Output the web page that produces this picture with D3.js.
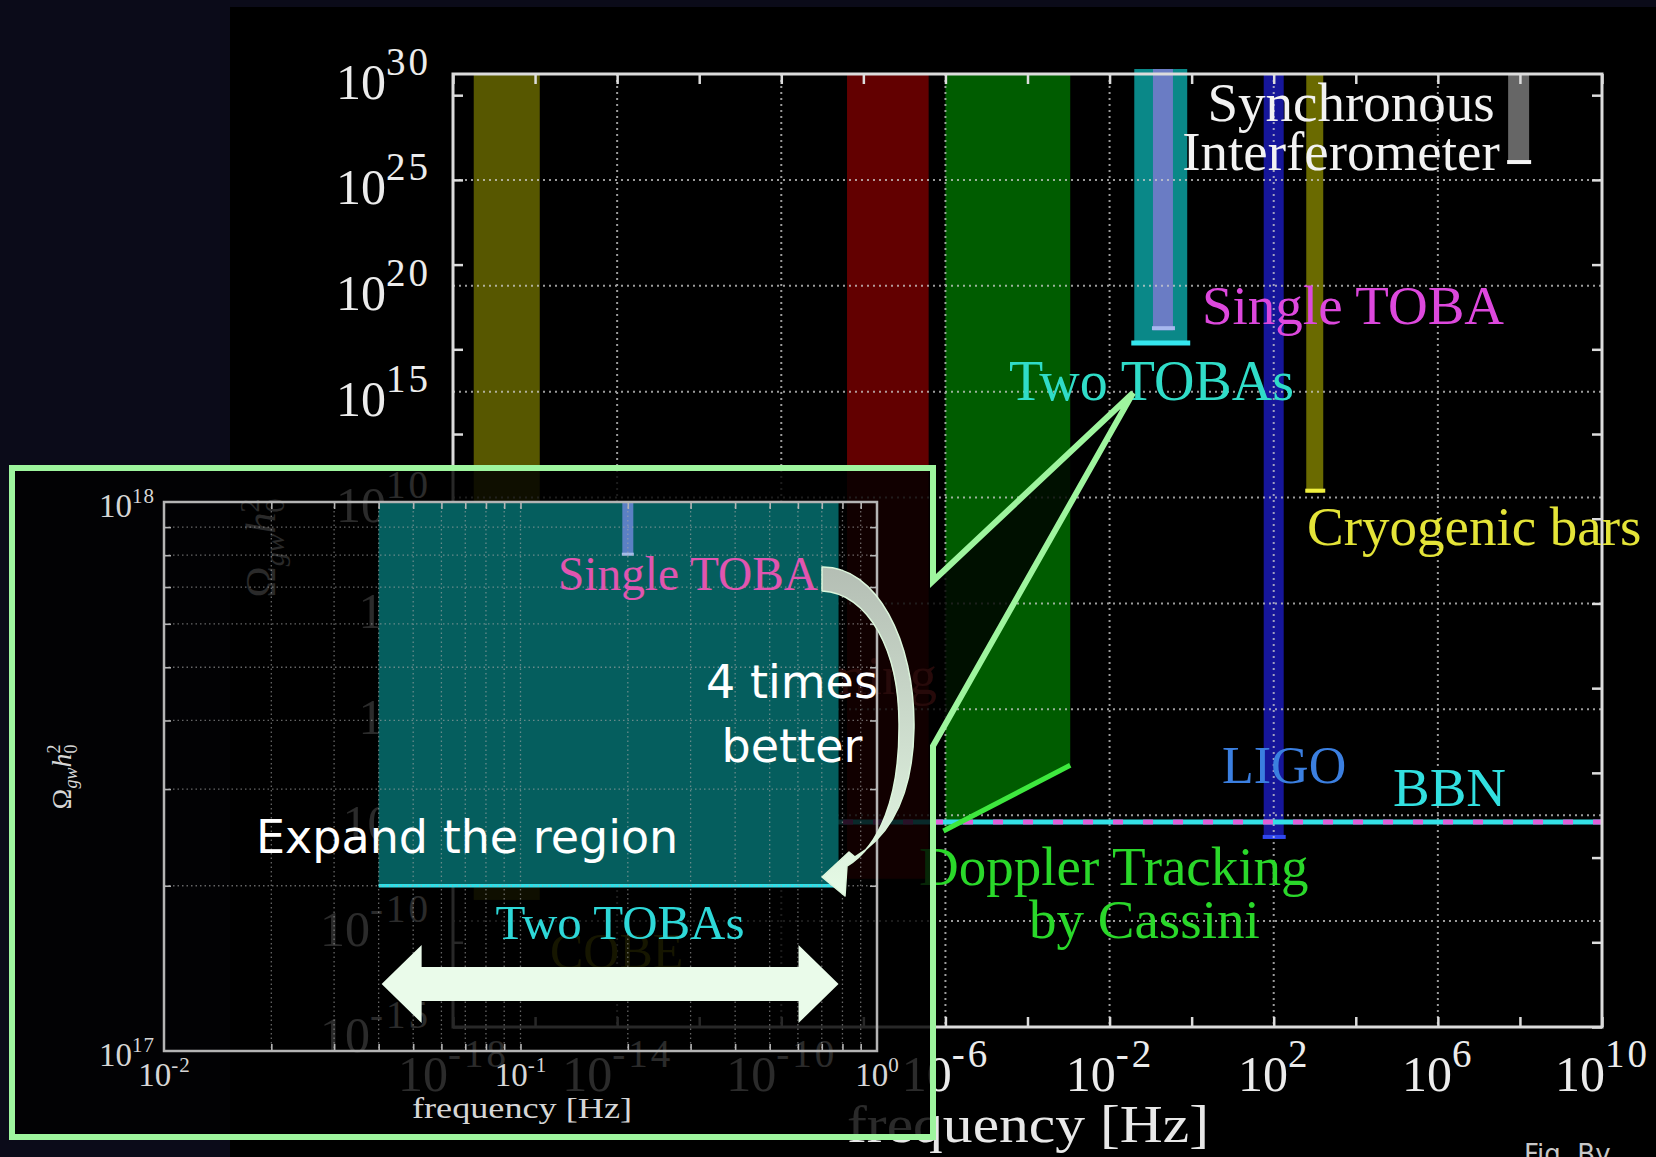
<!DOCTYPE html>
<html>
<head>
<meta charset="utf-8">
<script src="https://cdn.jsdelivr.net/npm/d3@7"></script>
<style>
  html, body { margin: 0; padding: 0; background: #0b0b19; overflow: hidden; }
  svg { display: block; }
</style>
</head>
<body>
<svg id="chart" width="1656" height="1157"></svg>
<script>
// ---------------- data ----------------
// main panel: tick label exponents (10^n)
const xLabelExps = [-18, -14, -10, -6, -2, 2, 6, 10];
const yLabelExps = [30, 25, 20, 15, 10, 5, 0, -5, -10, -15];
const xMinorExps = d3.range(-18, 11, 2);
const yMinorExps = d3.range(-15, 31, 4);

// wide exclusion bands (frequency span, lower edge of Omega_gw h0^2)
const bandNames = ["COBE", "Pulsar timing"];
const bandFreqLow = [3.2e-18, 4e-9];
const bandFreqHigh = [1.3e-16, 3.9e-7];
const bandOmegaMin = [1e-9, 1e-8];

// Doppler tracking by Cassini: sloped lower edge
const dopplerFreq = [1e-6, 1.1e-3];
const dopplerOmega = [2e-6, 2.3e-3];

// Big Bang nucleosynthesis bound
const bbnOmega = 4.8e-6;

// two co-located TOBAs
const twoTobasFreq = [0.04, 0.78];
const twoTobasOmega = 2e17;

// narrow-band detectors (centre frequency, lower limit)
const detectorNames = ["Single TOBA", "LIGO", "Cryogenic bars", "Synchronous Interferometer"];
const detectorFreq = [0.2, 100, 1000, 9.3e7];
const detectorOmega = [8e17, 7.6e-7, 1.7e10, 5.6e25];

// zoomed panel
const insetXLabelExps = [-2, -1, 0];
const insetYLabelExps = [18, 17];
const insetMultipliers = [2, 3, 4, 5, 6, 7, 8, 9];

// ---------------- styles ----------------
const SERIF = "'Liberation Serif', 'Times New Roman', serif";
const SANS = "'DejaVu Sans', Verdana, sans-serif";
const bandColors = ["#575700", "#620000"];
const detectorStyle = [
  { color: "#6a7cc4", cap: "#a7b8ee", width: 20 },
  { color: "#16169a", cap: "#3048f0", width: 20 },
  { color: "#6a6a00", cap: "#f0f040", width: 17 },
  { color: "#666666", cap: "#f4f4f4", width: 21 }
];

const W = 1656, H = 1157;
const svg = d3.select("#chart");
const defs = svg.append("defs");
const grad = defs.append("linearGradient").attr("id", "arcFill")
  .attr("x1", 0).attr("y1", 0).attr("x2", 0).attr("y2", 1);
grad.append("stop").attr("offset", "0%").attr("stop-color", "#b4beb4");
grad.append("stop").attr("offset", "100%").attr("stop-color", "#e6fbe6");

// backdrop
svg.append("rect").attr("width", W).attr("height", H).attr("fill", "#0b0b19");
svg.append("rect").attr("x", 230).attr("y", 7).attr("width", W - 230).attr("height", H - 7).attr("fill", "#000");

// ---------------- main panel ----------------
const M = { left: 453, right: 1602, top: 74, bottom: 1027 };
const x = d3.scaleLog().domain([1e-18, 1e10]).range([M.left, M.right]);
const y = d3.scaleLog().domain([1e-15, 1e30]).range([M.bottom, M.top]);
const yTop = y.domain()[1];
const p10 = e => Math.pow(10, e);
const expText = e => (e < 0 ? "-" + Math.abs(e) : String(e));

const main = svg.append("g");

// wide bands
main.selectAll("rect.band").data(bandNames).join("rect").attr("class", "band")
  .attr("x", (d, i) => x(bandFreqLow[i]))
  .attr("width", (d, i) => x(bandFreqHigh[i]) - x(bandFreqLow[i]))
  .attr("y", y(yTop))
  .attr("height", (d, i) => y(bandOmegaMin[i]) - y(yTop))
  .attr("fill", (d, i) => bandColors[i]);

// Doppler tracking region
const dopplerPoly = [
  [dopplerFreq[0], yTop], [dopplerFreq[1], yTop],
  [dopplerFreq[1], dopplerOmega[1]], [dopplerFreq[0], dopplerOmega[0]]
];
main.append("path")
  .attr("d", d3.line().x(d => x(d[0])).y(d => y(d[1]))(dopplerPoly) + "Z")
  .attr("fill", "#005c00");

// Two TOBAs region
main.append("rect")
  .attr("x", x(twoTobasFreq[0])).attr("width", x(twoTobasFreq[1]) - x(twoTobasFreq[0]))
  .attr("y", y(yTop) - 5).attr("height", y(twoTobasOmega) - y(yTop) + 5)
  .attr("fill", "#0a8888");

// narrow detectors
detectorNames.forEach((name, i) => {
  const s = detectorStyle[i];
  const cx = x(detectorFreq[i]);
  main.append("line")
    .attr("x1", cx).attr("x2", cx)
    .attr("y1", i === 0 ? y(yTop) - 5 : y(yTop)).attr("y2", y(detectorOmega[i]))
    .attr("stroke", s.color).attr("stroke-width", s.width);
  main.append("line")
    .attr("x1", cx - s.width / 2 - 1).attr("x2", cx + s.width / 2 + 2)
    .attr("y1", y(detectorOmega[i]) - 2).attr("y2", y(detectorOmega[i]) - 2)
    .attr("stroke", s.cap).attr("stroke-width", 4);
});

// grid
const grid = main.append("g").attr("stroke", "#cfcfcf").attr("stroke-width", 2)
  .attr("stroke-dasharray", "2,4").attr("opacity", 0.75);
grid.selectAll("line.gx").data(xLabelExps.slice(1, -1)).join("line")
  .attr("x1", d => x(p10(d))).attr("x2", d => x(p10(d)))
  .attr("y1", M.top).attr("y2", M.bottom);
grid.selectAll("line.gy").data(yLabelExps.slice(1, -1)).join("line")
  .attr("y1", d => y(p10(d))).attr("y2", d => y(p10(d)))
  .attr("x1", M.left).attr("x2", M.right);

// BBN bound
main.append("line").attr("x1", M.left).attr("x2", M.right)
  .attr("y1", y(bbnOmega)).attr("y2", y(bbnOmega))
  .attr("stroke", "#35e0e6").attr("stroke-width", 5);
main.append("line").attr("x1", M.left).attr("x2", M.right)
  .attr("y1", y(bbnOmega)).attr("y2", y(bbnOmega))
  .attr("stroke", "#e060d8").attr("stroke-width", 5).attr("stroke-dasharray", "10,20");

// Doppler lower edge
main.append("line")
  .attr("x1", x(dopplerFreq[0]) - 2).attr("y1", y(dopplerOmega[0]) + 1)
  .attr("x2", x(dopplerFreq[1])).attr("y2", y(dopplerOmega[1]))
  .attr("stroke", "#3ee83e").attr("stroke-width", 5);

// Two TOBAs lower edge
main.append("line")
  .attr("x1", x(twoTobasFreq[0]) - 3).attr("x2", x(twoTobasFreq[1]) + 3)
  .attr("y1", y(twoTobasOmega)).attr("y2", y(twoTobasOmega))
  .attr("stroke", "#35e6ee").attr("stroke-width", 5);

// frame
main.append("rect").attr("x", M.left).attr("y", M.top)
  .attr("width", M.right - M.left).attr("height", M.bottom - M.top)
  .attr("fill", "none").attr("stroke", "#dcdcdc").attr("stroke-width", 3);

// minor ticks (inward)
function styleTicks(g) {
  g.select(".domain").remove();
  g.selectAll("line").attr("stroke", "#dcdcdc").attr("stroke-width", 2.5);
}
const xm = xMinorExps.map(p10), ym = yMinorExps.map(p10);
main.append("g").attr("transform", `translate(0,${M.bottom})`)
  .call(d3.axisBottom(x).tickValues(xm).tickSize(-10).tickFormat("")).call(styleTicks);
main.append("g").attr("transform", `translate(0,${M.top})`)
  .call(d3.axisTop(x).tickValues(xm).tickSize(-10).tickFormat("")).call(styleTicks);
main.append("g").attr("transform", `translate(${M.left},0)`)
  .call(d3.axisLeft(y).tickValues(ym).tickSize(-10).tickFormat("")).call(styleTicks);
main.append("g").attr("transform", `translate(${M.right},0)`)
  .call(d3.axisRight(y).tickValues(ym).tickSize(-10).tickFormat("")).call(styleTicks);

// power-of-ten labels
function powLabel(t, e, fs, ss, rise, spacing) {
  t.append("tspan").attr("font-size", fs).text("10");
  t.append("tspan").attr("font-size", ss).attr("dy", -rise)
    .attr("letter-spacing", spacing || 0).text(expText(e));
}
const gxl = main.append("g").attr("transform", `translate(0,${M.bottom})`)
  .call(d3.axisBottom(x).tickValues(xLabelExps.map(p10)).tickSize(0).tickFormat(""));
gxl.select(".domain").remove();
gxl.selectAll(".tick text").each(function (d) {
  const t = d3.select(this).attr("y", 64).attr("dy", null).attr("fill", "#ececec")
    .attr("font-family", SERIF).attr("text-anchor", "middle");
  powLabel(t, Math.round(Math.log10(d)), 50, 39, 24, 3);
});
const gyl = main.append("g").attr("transform", `translate(${M.left},0)`)
  .call(d3.axisLeft(y).tickValues(yLabelExps.map(p10)).tickSize(0).tickFormat(""));
gyl.select(".domain").remove();
gyl.selectAll(".tick text").each(function (d) {
  const t = d3.select(this).attr("x", -22).attr("y", 24).attr("dy", null).attr("fill", "#ececec")
    .attr("font-family", SERIF).attr("text-anchor", "end");
  powLabel(t, Math.round(Math.log10(d)), 50, 39, 24, 3);
});

// axis titles
main.append("text").attr("x", 847).attr("y", 1142)
  .attr("font-family", SERIF).attr("font-size", 53).attr("fill", "#e8e8e8")
  .attr("textLength", 362).attr("lengthAdjust", "spacingAndGlyphs")
  .text("frequency [Hz]");
function omegaTitle(sel, fs) {
  const ss = Math.round(fs * 0.66);
  sel.append("tspan").attr("font-size", fs).text("Ω");
  sel.append("tspan").attr("font-size", ss).attr("font-style", "italic").attr("dy", fs * 0.22).text("gw");
  sel.append("tspan").attr("font-size", fs).attr("font-style", "italic").attr("dy", -fs * 0.22).text("h");
  sel.append("tspan").attr("font-size", ss).attr("dy", fs * 0.22).text("0");
  sel.append("tspan").attr("font-size", ss).attr("dy", -fs * 0.6).attr("dx", -ss * 0.5).text("2");
}
main.append("text").attr("transform", "translate(275,548) rotate(-90)")
  .attr("text-anchor", "middle").attr("font-family", SERIF).attr("fill", "#e8e8e8")
  .call(omegaTitle, 42);

// series labels
function label(txt, xx, yy, color, fs, anchor) {
  main.append("text").attr("x", xx).attr("y", yy).attr("fill", color)
    .attr("font-family", SERIF).attr("font-size", fs).attr("text-anchor", anchor || "start")
    .text(txt);
}
label("Synchronous", 1351, 121, "#f2f2f2", 55, "middle");
label("Interferometer", 1341, 170, "#f2f2f2", 55, "middle");
label("Single TOBA", 1202, 324, "#dd48dd", 55);
label("Two TOBAs", 1009, 400, "#30dcc8", 56);
label("Cryogenic bars", 1307, 545, "#e4e438", 55);
label("LIGO", 1222, 783, "#3b7fe0", 52);
label("BBN", 1393, 806, "#32e0e0", 55);
label("Doppler Tracking", 919, 885, "#2ad82a", 55);
label("by Cassini", 1029, 938, "#2ad82a", 55);
label("COBE", 550, 968, "#7a7a00", 50);
label("Pulsar timing", 937, 694, "#d83a3a", 55, "end");

// ---------------- zoomed panel (callout) ----------------
const bubble = [[12, 468], [933, 468], [933, 581], [1133, 393], [933, 746], [933, 1137], [12, 1137]];
svg.append("path").attr("d", d3.line()(bubble) + "Z")
  .attr("fill", "#000").attr("fill-opacity", 0.82)
  .attr("stroke", "#9ef59e").attr("stroke-width", 6).attr("stroke-linejoin", "miter");

const I = { left: 164, right: 877, top: 502, bottom: 1051 };
const xi = d3.scaleLog().domain([1e-2, 1]).range([I.left, I.right]);
const yi = d3.scaleLog().domain([1e17, 1e18]).range([I.bottom, I.top]);
const inset = svg.append("g");

inset.append("rect")
  .attr("x", xi(twoTobasFreq[0])).attr("width", xi(twoTobasFreq[1]) - xi(twoTobasFreq[0]))
  .attr("y", I.top).attr("height", yi(twoTobasOmega) - I.top)
  .attr("fill", "#055e5e");
inset.append("line")
  .attr("x1", xi(twoTobasFreq[0])).attr("x2", xi(twoTobasFreq[1]))
  .attr("y1", yi(twoTobasOmega)).attr("y2", yi(twoTobasOmega))
  .attr("stroke", "#2ee0e8").attr("stroke-width", 3.5);
inset.append("line")
  .attr("x1", xi(detectorFreq[0])).attr("x2", xi(detectorFreq[0]))
  .attr("y1", I.top).attr("y2", yi(detectorOmega[0]))
  .attr("stroke", "#5b80c4").attr("stroke-width", 11);
inset.append("line")
  .attr("x1", xi(detectorFreq[0]) - 6).attr("x2", xi(detectorFreq[0]) + 6)
  .attr("y1", yi(detectorOmega[0]) - 1).attr("y2", yi(detectorOmega[0]) - 1)
  .attr("stroke", "#a4bce8").attr("stroke-width", 3);

const ixVals = [];
[-2, -1].forEach(e => insetMultipliers.forEach(m => ixVals.push(m * p10(e))));
ixVals.push(0.1);
const iyVals = insetMultipliers.map(m => m * 1e17);

const igrid = inset.append("g").attr("stroke", "#a8a8a8").attr("stroke-width", 1.3)
  .attr("stroke-dasharray", "1.5,3").attr("opacity", 0.6);
igrid.selectAll("line.vx").data(ixVals).join("line")
  .attr("x1", d => xi(d)).attr("x2", d => xi(d)).attr("y1", I.top).attr("y2", I.bottom);
igrid.selectAll("line.hy").data(iyVals).join("line")
  .attr("y1", d => yi(d)).attr("y2", d => yi(d)).attr("x1", I.left).attr("x2", I.right);

inset.append("rect").attr("x", I.left).attr("y", I.top)
  .attr("width", I.right - I.left).attr("height", I.bottom - I.top)
  .attr("fill", "none").attr("stroke", "#b4b4b4").attr("stroke-width", 2.5);

function styleInsetTicks(g) {
  g.select(".domain").remove();
  g.selectAll("line").attr("stroke", "#b4b4b4").attr("stroke-width", 1.6);
}
inset.append("g").attr("transform", `translate(0,${I.bottom})`)
  .call(d3.axisBottom(xi).tickValues(ixVals).tickSize(-7).tickFormat("")).call(styleInsetTicks);
inset.append("g").attr("transform", `translate(0,${I.top})`)
  .call(d3.axisTop(xi).tickValues(ixVals).tickSize(-7).tickFormat("")).call(styleInsetTicks);
inset.append("g").attr("transform", `translate(${I.left},0)`)
  .call(d3.axisLeft(yi).tickValues(iyVals).tickSize(-7).tickFormat("")).call(styleInsetTicks);
inset.append("g").attr("transform", `translate(${I.right},0)`)
  .call(d3.axisRight(yi).tickValues(iyVals).tickSize(-7).tickFormat("")).call(styleInsetTicks);

const ixl = inset.append("g").attr("transform", `translate(0,${I.bottom})`)
  .call(d3.axisBottom(xi).tickValues(insetXLabelExps.map(p10)).tickSize(0).tickFormat(""));
ixl.select(".domain").remove();
ixl.selectAll(".tick text").each(function (d) {
  const t = d3.select(this).attr("y", 35).attr("dy", null).attr("fill", "#d6d6d6")
    .attr("font-family", SERIF).attr("text-anchor", "middle");
  powLabel(t, Math.round(Math.log10(d)), 33, 21, 14, 1);
});
const iyl = inset.append("g").attr("transform", `translate(${I.left},0)`)
  .call(d3.axisLeft(yi).tickValues(insetYLabelExps.map(p10)).tickSize(0).tickFormat(""));
iyl.select(".domain").remove();
iyl.selectAll(".tick text").each(function (d) {
  const t = d3.select(this).attr("x", -9).attr("y", 14).attr("dy", null).attr("fill", "#d6d6d6")
    .attr("font-family", SERIF).attr("text-anchor", "end");
  powLabel(t, Math.round(Math.log10(d)), 33, 21, 14, 1);
});

inset.append("text").attr("x", 522).attr("y", 1118).attr("text-anchor", "middle")
  .attr("font-family", SERIF).attr("font-size", 30).attr("fill", "#d6d6d6")
  .attr("textLength", 220).attr("lengthAdjust", "spacingAndGlyphs")
  .text("frequency [Hz]");
inset.append("text").attr("transform", "translate(71,777) rotate(-90)")
  .attr("text-anchor", "middle").attr("font-family", SERIF).attr("fill", "#d6d6d6")
  .call(omegaTitle, 28);

inset.append("text").attr("x", 688).attr("y", 590).attr("text-anchor", "middle")
  .attr("font-family", SERIF).attr("font-size", 48).attr("fill", "#e055b0")
  .attr("textLength", 260).attr("lengthAdjust", "spacingAndGlyphs").text("Single TOBA");
inset.append("text").attr("x", 620).attr("y", 939).attr("text-anchor", "middle")
  .attr("font-family", SERIF).attr("font-size", 48).attr("fill", "#2ed8d8")
  .attr("textLength", 249).attr("lengthAdjust", "spacingAndGlyphs").text("Two TOBAs");

// ---------------- annotations ----------------
const notes = svg.append("g").attr("font-family", SANS).attr("fill", "#ffffff").attr("font-size", 46);
notes.append("text").attr("x", 256).attr("y", 853).text("Expand the region");
notes.append("text").attr("x", 792).attr("y", 698).attr("text-anchor", "middle").text("4 times");
notes.append("text").attr("x", 792).attr("y", 762).attr("text-anchor", "middle").text("better");

// curved arrow from single to two TOBAs
svg.append("path")
  .attr("d", "M822,567 C876,566 915,640 914,728 C913,795 890,836 855,857 " +
             "L849,852 L822,877 L845,896 L847,866 " +
             "C880,846 899,797 899,728 C900,650 868,593 822,591 Z")
  .attr("fill", "url(#arcFill)").attr("stroke", "#dcf6dc").attr("stroke-width", 1.5)
  .attr("stroke-linejoin", "round");

// double arrow spanning the Two TOBAs band
const aL = xi(twoTobasFreq[0]) + 3, aR = xi(twoTobasFreq[1]);
const aY = 984, shaft = 17, head = 39, headLen = 40;
const arrowPts = [
  [aL, aY], [aL + headLen, aY - head], [aL + headLen, aY - shaft],
  [aR - headLen, aY - shaft], [aR - headLen, aY - head], [aR, aY],
  [aR - headLen, aY + head], [aR - headLen, aY + shaft],
  [aL + headLen, aY + shaft], [aL + headLen, aY + head]
];
svg.append("path").attr("d", d3.line()(arrowPts) + "Z").attr("fill", "#eafbea");

// credit line
svg.append("text").attr("x", 1524).attr("y", 1163)
  .attr("font-family", SANS).attr("font-size", 26).attr("fill", "#c8c8c8")
  .text("Fig. By");
</script>
</body>
</html>
